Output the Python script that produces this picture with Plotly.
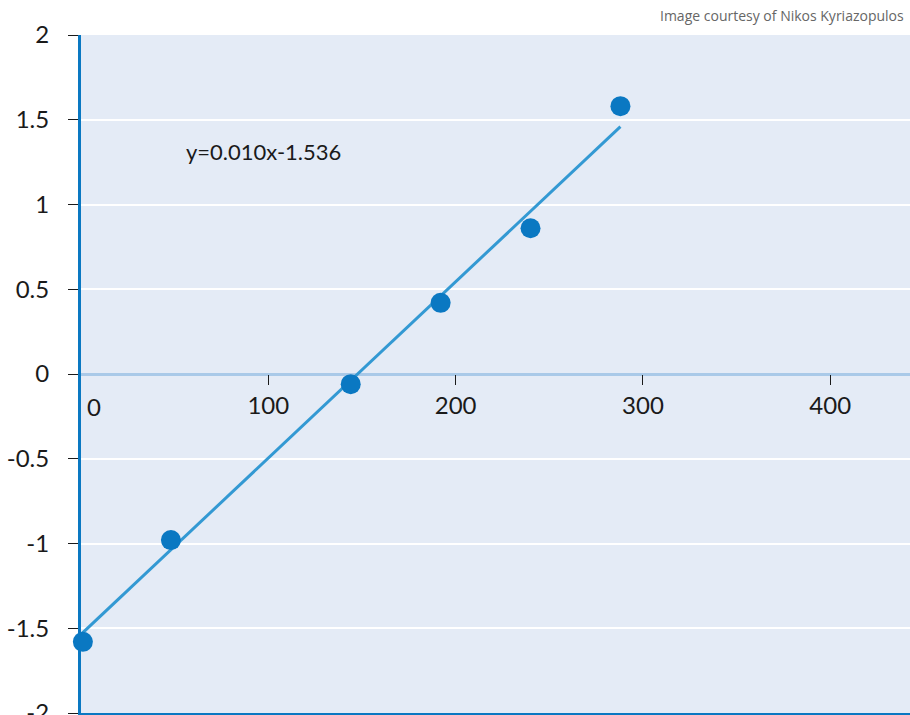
import plotly.graph_objects as go

# Measured samples
x_vals = [1, 48, 144, 192, 240, 288]
y_vals = [-1.58, -0.98, -0.06, 0.42, 0.86, 1.58]

# Linear trend (slope shown rounded to 3 decimals)
slope = 0.0104
intercept = -1.536
fit_x = [0, 288]
fit_y = [slope * v + intercept for v in fit_x]

y_tick_vals = [2, 1.5, 1, 0.5, 0, -0.5, -1, -1.5, -2]
y_tick_text = ["2", "1.5", "1", "0.5", "0", "-0.5", "-1", "-1.5", "-2"]
x_tick_vals = [100, 200, 300, 400]
x_tick_text = ["100", "200", "300", "400"]

X_RANGE = [0, 442.6]
Y_RANGE = [-2, 2]

FONT = "Lato"
AXIS_BLUE = "#0a78c2"
BG = "#e4ebf6"

fig = go.Figure()

fig.add_trace(go.Scatter(
    x=fit_x, y=fit_y, mode="lines",
    line=dict(color="#3399d3", width=3),
    hoverinfo="skip", showlegend=False, cliponaxis=False,
))
fig.add_trace(go.Scatter(
    x=x_vals, y=y_vals, mode="markers",
    marker=dict(color="#0a78c2", size=20),
    showlegend=False, cliponaxis=False,
))
# invisible trace to carry the mid-height tick axis
fig.add_trace(go.Scatter(x=[None], y=[None], xaxis="x2", showlegend=False))

eq_text = f"y={slope:.3f}x{intercept:+.3f}"

fig.update_layout(
    width=910, height=715,
    margin=dict(l=81, r=0, t=35, b=2, autoexpand=False),
    paper_bgcolor="white",
    plot_bgcolor=BG,
    font=dict(family=FONT, color="#1a1a1a", size=24),
    xaxis=dict(
        range=X_RANGE, showgrid=False, zeroline=False,
        showline=True, linecolor=AXIS_BLUE, linewidth=3,
        showticklabels=False, ticks="", automargin=False,
    ),
    xaxis2=dict(
        range=X_RANGE, matches="x", overlaying="x",
        anchor="free", position=0.5, automargin=False,
        showgrid=False, zeroline=False, showline=False,
        tickmode="array", tickvals=x_tick_vals, ticktext=x_tick_text,
        ticks="outside", ticklen=10, tickwidth=1, tickcolor="#1a1a1a",
        tickfont=dict(family=FONT, size=24, color="#1a1a1a"),
    ),
    yaxis=dict(
        range=Y_RANGE, automargin=False,
        tickmode="array", tickvals=y_tick_vals, ticktext=y_tick_text,
        ticks="outside", ticklen=10, tickwidth=1, tickcolor="#1a1a1a",
        ticklabelstandoff=14, ticklabeloverflow="allow",
        showgrid=True, gridcolor="white", gridwidth=2,
        zeroline=True, zerolinecolor="#a9c9e8", zerolinewidth=3,
        showline=True, linecolor=AXIS_BLUE, linewidth=3,
        tickfont=dict(family=FONT, size=24, color="#1a1a1a"),
    ),
    annotations=[
        dict(
            text=eq_text, x=55, y=1.31, xref="x", yref="y",
            xanchor="left", yanchor="middle", showarrow=False,
            font=dict(family=FONT, size=22, color="#1a1a1a"),
        ),
        dict(
            text="0", x=0, y=0, xref="x", yref="y",
            xanchor="left", yanchor="top", xshift=4, yshift=-16,
            showarrow=False,
            font=dict(family=FONT, size=24, color="#1a1a1a"),
        ),
        dict(
            text="Image courtesy of Nikos Kyriazopulos",
            x=1, y=1, xref="paper", yref="paper",
            xanchor="right", yanchor="bottom", xshift=-4, yshift=8,
            showarrow=False,
            font=dict(family="Open Sans", size=14, color="#666666"),
        ),
    ],
)

fig.write_html("out.html")
